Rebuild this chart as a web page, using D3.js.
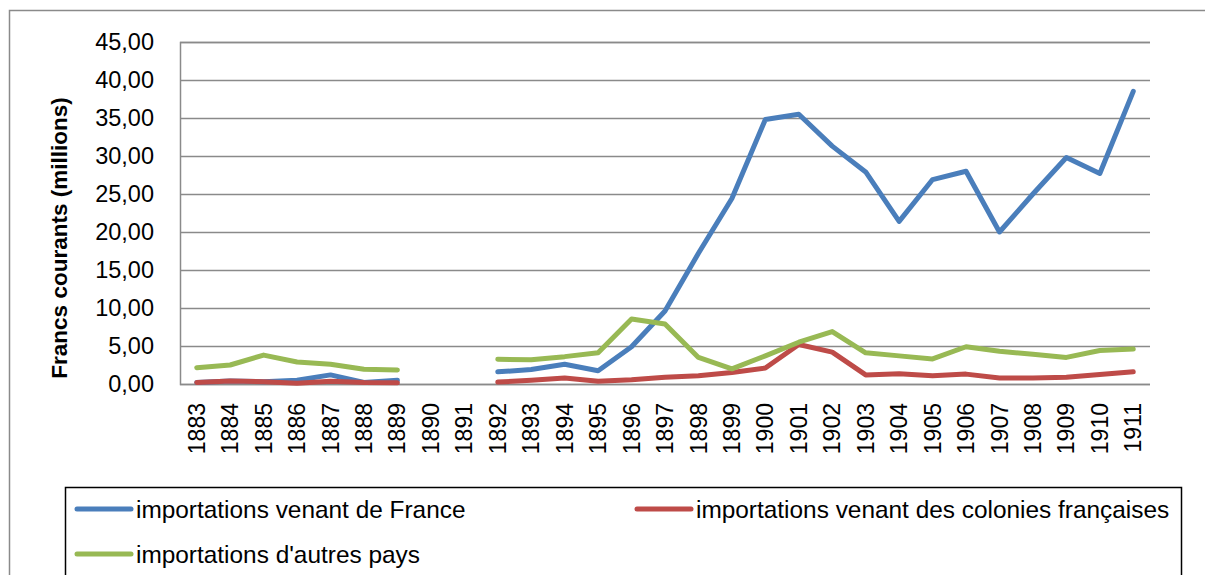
<!DOCTYPE html>
<html>
<head>
<meta charset="utf-8">
<script src="https://cdn.jsdelivr.net/npm/d3@7"></script>
<style>
    body { margin: 0; background: #ffffff; }
    text { font-family: "Liberation Sans", Arial, sans-serif; fill: #000000; }
</style>
</head>
<body>
<div id="chart"></div>
<script>
    // Data
    // ==============================
    var years = [1883, 1884, 1885, 1886, 1887, 1888, 1889, 1890, 1891, 1892,
        1893, 1894, 1895, 1896, 1897, 1898, 1899, 1900, 1901, 1902,
        1903, 1904, 1905, 1906, 1907, 1908, 1909, 1910, 1911];

    // 1890 and 1891 missing in the source (null = gap in the line)
    var franceValues = [0.2, 0.4, 0.3, 0.5, 1.2, 0.2, 0.5, null, null, 1.6,
        1.9, 2.6, 1.75, 4.9, 9.6, 17.2, 24.4, 34.8, 35.5, 31.3,
        27.9, 21.4, 26.9, 28.0, 20.0, 25.0, 29.8, 27.7, 38.5];

    var coloniesValues = [0.2, 0.4, 0.3, 0.1, 0.35, 0.2, 0.15, null, null, 0.25,
        0.5, 0.8, 0.35, 0.55, 0.9, 1.1, 1.5, 2.1, 5.2, 4.2,
        1.2, 1.35, 1.1, 1.3, 0.8, 0.8, 0.9, 1.25, 1.6];

    var autresValues = [2.15, 2.5, 3.8, 2.9, 2.6, 1.95, 1.85, null, null, 3.25,
        3.2, 3.6, 4.1, 8.55, 7.9, 3.5, 2.0, 3.7, 5.5, 6.9,
        4.1, 3.7, 3.3, 4.9, 4.3, 3.9, 3.5, 4.4, 4.6];

    var seriesNames = ["importations venant de France",
        "importations venant des colonies françaises",
        "importations d'autres pays"];
    var seriesColors = ["#4A7EBB", "#BE4B48", "#98B954"];

    var yTicks = [0, 5, 10, 15, 20, 25, 30, 35, 40, 45];

    var series = [franceValues, coloniesValues, autresValues].map(function(vals, i) {
        return {
            name: seriesNames[i],
            color: seriesColors[i],
            values: years.map(function(y, j) { return { year: y, value: vals[j] }; })
        };
    });

    // SVG
    // ==============================
    var svgWidth = 1205;
    var svgHeight = 575;

    var plot = { left: 180, right: 1150, top: 42, bottom: 384 };

    var svg = d3.select("#chart")
        .append("svg")
        .attr("width", svgWidth)
        .attr("height", svgHeight);

    // outer chart frame
    svg.append("rect")
        .attr("x", 9.5)
        .attr("y", 10.5)
        .attr("width", 1220)
        .attr("height", 620)
        .attr("fill", "none")
        .attr("stroke", "#8a8a8a")
        .attr("stroke-width", 1.5);

    // Scales
    // ==============================
    var xScale = d3.scaleBand()
        .domain(years)
        .range([plot.left, plot.right]);

    var yScale = d3.scaleLinear()
        .domain([0, 45])
        .range([plot.bottom, plot.top]);

    var fmt = function(d) { return d3.format(".2f")(d).replace(".", ","); };

    // Gridlines + y axis
    // ==============================
    var yAxis = d3.axisLeft(yScale)
        .tickValues(yTicks)
        .tickSize(-(plot.right - plot.left))
        .tickPadding(26)
        .tickFormat(fmt);

    var yAxisGroup = svg.append("g")
        .attr("transform", `translate(${plot.left}, 0)`)
        .call(yAxis);

    yAxisGroup.select(".domain")
        .attr("stroke", "#8a8a8a")
        .attr("stroke-width", 1.5);

    yAxisGroup.selectAll(".tick line")
        .attr("stroke", "#8a8a8a")
        .attr("stroke-width", 1.5);

    yAxisGroup.selectAll(".tick text")
        .style("font-size", "23.5px")
        .attr("fill", "#000");

    // X axis labels (rotated)
    // ==============================
    var xAxis = d3.axisBottom(xScale)
        .tickSize(0)
        .tickPadding(0);

    var xAxisGroup = svg.append("g")
        .attr("transform", `translate(0, ${plot.bottom})`)
        .call(xAxis);

    xAxisGroup.select(".domain").remove();

    xAxisGroup.selectAll(".tick text")
        .style("font-size", "23px")
        .attr("fill", "#000")
        .attr("text-anchor", "end")
        .attr("transform", "rotate(-90)")
        .attr("x", -19)
        .attr("y", 0)
        .attr("dy", "0.35em");

    // Y axis title
    // ==============================
    svg.append("text")
        .attr("transform", `translate(67, 238) rotate(-90)`)
        .attr("text-anchor", "middle")
        .style("font-size", "22.5px")
        .style("font-weight", "bold")
        .text("Francs courants (millions)");

    // Lines
    // ==============================
    var line = d3.line()
        .defined(d => d.value !== null)
        .x(d => xScale(d.year) + xScale.bandwidth() / 2)
        .y(d => yScale(d.value));

    svg.selectAll(".series")
        .data(series)
        .enter()
        .append("path")
        .classed("series", true)
        .attr("d", d => line(d.values))
        .attr("fill", "none")
        .attr("stroke", d => d.color)
        .attr("stroke-width", 5)
        .attr("stroke-linejoin", "round")
        .attr("stroke-linecap", "round");

    // Legend
    // ==============================
    svg.append("rect")
        .attr("x", 65.5)
        .attr("y", 487.5)
        .attr("width", 1116)
        .attr("height", 120)
        .attr("fill", "none")
        .attr("stroke", "#000")
        .attr("stroke-width", 1.5);

    var legendPos = [{ x: 77, y: 509 }, { x: 637, y: 509 }, { x: 77, y: 554 }];

    var legend = svg.selectAll(".legendItem")
        .data(series)
        .enter()
        .append("g")
        .classed("legendItem", true)
        .attr("transform", (d, i) => `translate(${legendPos[i].x}, ${legendPos[i].y})`);

    legend.append("line")
        .attr("x1", 0)
        .attr("x2", 54)
        .attr("y1", 0)
        .attr("y2", 0)
        .attr("stroke", d => d.color)
        .attr("stroke-width", 5)
        .attr("stroke-linecap", "round");

    legend.append("text")
        .attr("x", 59)
        .attr("y", 0)
        .attr("dy", "0.35em")
        .style("font-size", "24.4px")
        .text(d => d.name);
</script>
</body>
</html>
